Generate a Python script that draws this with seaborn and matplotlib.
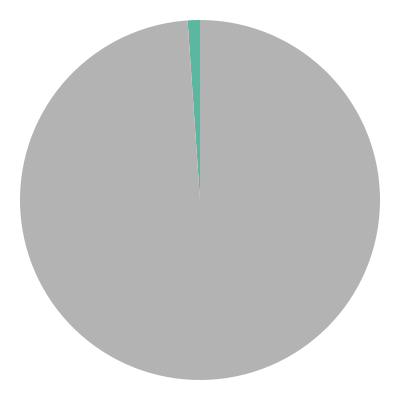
import matplotlib
matplotlib.use("Agg")
import matplotlib.pyplot as plt
import seaborn as sns

labels = ["A", "B"]
values = [1.1, 98.9]
pie_colors = ["#5bb79f", "#b3b3b3"]

sns.set_theme(style="white")

fig = plt.figure(figsize=(4, 4), dpi=100)
ax = fig.add_axes([0.05, 0.05, 0.9, 0.9])
ax.pie(values, colors=pie_colors, startangle=90, counterclock=True,
       wedgeprops=dict(linewidth=0))
ax.set_xlim(-1, 1)
ax.set_ylim(-1, 1)
ax.set_aspect("equal")
ax.axis("off")
fig.savefig("out.png", dpi=100)
